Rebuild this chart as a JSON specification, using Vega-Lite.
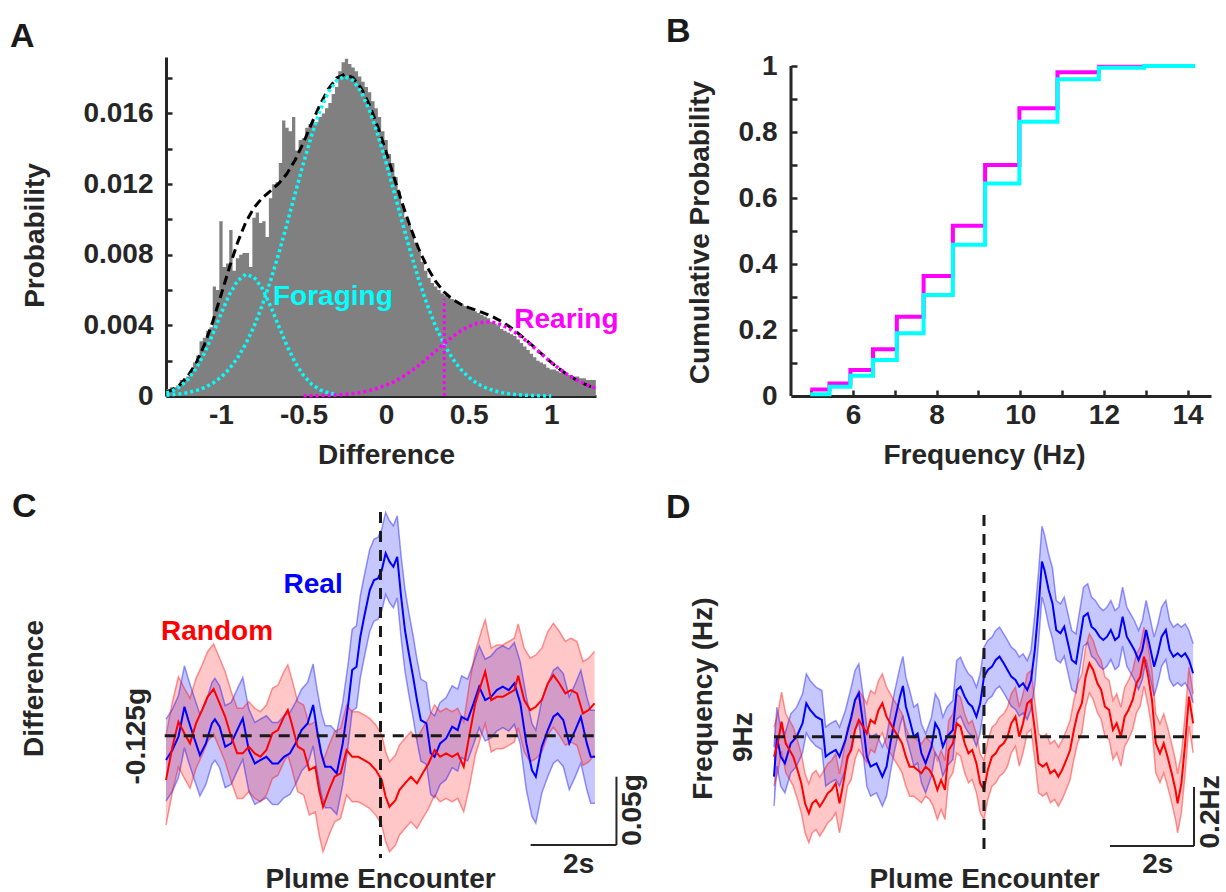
{
"$schema": "https://vega.github.io/schema/vega-lite/v6.json",
"background": "white",
"padding": {"left": 10, "top": 15, "right": 5, "bottom": 0},
"columns": 2,
"spacing": {"row": 107, "column": 195},
"bounds": "flush",
"align": "none",
"config": {
  "view": {"stroke": null},
  "font": "Liberation Sans",
  "axis": {"grid": false, "zindex": 1, "domainColor": "#262626", "domainWidth": 3, "tickColor": "#262626", "tickWidth": 2.5, "tickSize": -6,
    "labelFont": "Liberation Sans", "labelFontSize": 28, "labelFontWeight": "bold", "labelColor": "#262626",
    "titleFont": "Liberation Sans", "titleFontSize": 28, "titleFontWeight": "bold", "titleColor": "#262626",
    "labelFlush": false, "labelOverlap": false, "labelBound": false, "labelAngle": 0},
  "title": {"font": "Liberation Sans", "fontSize": 34, "fontWeight": "bold", "color": "#1a1a1a", "anchor": "start", "frame": "group", "baseline": "alphabetic"},
  "text": {"font": "Liberation Sans", "fontWeight": "bold", "fontSize": 28}
},
"datasets": {
"hist": [
{"x":-1.33,"p":0.0004},{"x":-1.31,"p":0.0005},{"x":-1.29,"p":0.0005},{"x":-1.27,"p":0.0006},{"x":-1.25,"p":0.0009},{"x":-1.23,"p":0.001},{"x":-1.21,"p":0.0011},{"x":-1.19,"p":0.0014},{"x":-1.17,"p":0.0019},{"x":-1.15,"p":0.0023},
{"x":-1.13,"p":0.0031},{"x":-1.11,"p":0.0033},{"x":-1.09,"p":0.0037},{"x":-1.07,"p":0.0039},{"x":-1.05,"p":0.0062},{"x":-1.03,"p":0.006},{"x":-1.01,"p":0.0099},{"x":-0.99,"p":0.0073},{"x":-0.97,"p":0.0075},{"x":-0.95,"p":0.0094},
{"x":-0.93,"p":0.0071},{"x":-0.91,"p":0.0078},{"x":-0.89,"p":0.008},{"x":-0.87,"p":0.0081},{"x":-0.85,"p":0.0081},{"x":-0.83,"p":0.0073},{"x":-0.81,"p":0.0101},{"x":-0.79,"p":0.0104},{"x":-0.77,"p":0.0098},{"x":-0.75,"p":0.0099},
{"x":-0.73,"p":0.009},{"x":-0.71,"p":0.0112},{"x":-0.69,"p":0.012},{"x":-0.67,"p":0.0121},{"x":-0.65,"p":0.0132},{"x":-0.63,"p":0.0156},{"x":-0.61,"p":0.0152},{"x":-0.59,"p":0.015},{"x":-0.57,"p":0.0158},{"x":-0.55,"p":0.0139},
{"x":-0.53,"p":0.0145},{"x":-0.51,"p":0.0146},{"x":-0.49,"p":0.0152},{"x":-0.47,"p":0.0154},{"x":-0.45,"p":0.0155},{"x":-0.43,"p":0.0155},{"x":-0.41,"p":0.0158},{"x":-0.39,"p":0.016},{"x":-0.37,"p":0.0163},{"x":-0.35,"p":0.0166},
{"x":-0.33,"p":0.0171},{"x":-0.31,"p":0.0175},{"x":-0.29,"p":0.0184},{"x":-0.27,"p":0.0189},{"x":-0.25,"p":0.0191},{"x":-0.23,"p":0.0188},{"x":-0.21,"p":0.0186},{"x":-0.19,"p":0.0184},{"x":-0.17,"p":0.0181},{"x":-0.15,"p":0.0178},
{"x":-0.13,"p":0.0175},{"x":-0.11,"p":0.0172},{"x":-0.09,"p":0.0167},{"x":-0.07,"p":0.0163},{"x":-0.05,"p":0.0158},{"x":-0.03,"p":0.015},{"x":-0.01,"p":0.0145},{"x":0.01,"p":0.0137},{"x":0.03,"p":0.0132},{"x":0.05,"p":0.0124},
{"x":0.07,"p":0.0116},{"x":0.09,"p":0.0108},{"x":0.11,"p":0.0101},{"x":0.13,"p":0.0097},{"x":0.15,"p":0.0092},{"x":0.17,"p":0.0087},{"x":0.19,"p":0.0082},{"x":0.21,"p":0.0076},{"x":0.23,"p":0.0071},{"x":0.25,"p":0.0067},
{"x":0.27,"p":0.0064},{"x":0.29,"p":0.0062},{"x":0.31,"p":0.006},{"x":0.33,"p":0.0058},{"x":0.35,"p":0.0057},{"x":0.37,"p":0.0056},{"x":0.39,"p":0.0055},{"x":0.41,"p":0.0054},{"x":0.43,"p":0.0053},{"x":0.45,"p":0.0052},
{"x":0.47,"p":0.0051},{"x":0.49,"p":0.005},{"x":0.51,"p":0.0049},{"x":0.53,"p":0.0048},{"x":0.55,"p":0.0047},{"x":0.57,"p":0.0046},{"x":0.59,"p":0.0045},{"x":0.61,"p":0.0044},{"x":0.63,"p":0.0042},{"x":0.65,"p":0.0041},
{"x":0.67,"p":0.004},{"x":0.69,"p":0.0038},{"x":0.71,"p":0.0037},{"x":0.73,"p":0.0036},{"x":0.75,"p":0.0035},{"x":0.77,"p":0.0034},{"x":0.79,"p":0.0032},{"x":0.81,"p":0.003},{"x":0.83,"p":0.0028},{"x":0.85,"p":0.0026},
{"x":0.87,"p":0.0024},{"x":0.89,"p":0.0022},{"x":0.91,"p":0.002},{"x":0.93,"p":0.0019},{"x":0.95,"p":0.0018},{"x":0.97,"p":0.0016},{"x":0.99,"p":0.0015},{"x":1.01,"p":0.0015},{"x":1.03,"p":0.0014},{"x":1.05,"p":0.0013},
{"x":1.07,"p":0.0013},{"x":1.09,"p":0.0012},{"x":1.11,"p":0.0012},{"x":1.13,"p":0.0011},{"x":1.15,"p":0.0011},{"x":1.17,"p":0.001},{"x":1.19,"p":0.001},{"x":1.21,"p":0.0009},{"x":1.23,"p":0.0009},{"x":1.25,"p":0.0009},{"x":1.27,"p":0.0009}
],
"curve": [
{"x":-1.33,"s":0.00022,"g1":0.00017,"g2":0.00005,"g3":0},
{"x":-1.3,"s":0.00033,"g1":0.00026,"g2":0.00007,"g3":0},
{"x":-1.25,"s":0.00063,"g1":0.00052,"g2":0.00012,"g3":0},
{"x":-1.2,"s":0.00113,"g1":0.00093,"g2":0.00019,"g3":0},
{"x":-1.15,"s":0.00187,"g1":0.00157,"g2":0.00031,"g3":0},
{"x":-1.1,"s":0.00291,"g1":0.00243,"g2":0.00048,"g3":0},
{"x":-1.05,"s":0.00421,"g1":0.00349,"g2":0.00072,"g3":0},
{"x":-1.0,"s":0.00571,"g1":0.00465,"g2":0.00106,"g3":0},
{"x":-0.95,"s":0.00726,"g1":0.00573,"g2":0.00153,"g3":0},
{"x":-0.9,"s":0.00868,"g1":0.00653,"g2":0.00215,"g3":0},
{"x":-0.85,"s":0.00984,"g1":0.00689,"g2":0.00295,"g3":0},
{"x":-0.8,"s":0.01067,"g1":0.00673,"g2":0.00394,"g3":0},
{"x":-0.75,"s":0.01122,"g1":0.00609,"g2":0.00514,"g3":0},
{"x":-0.7,"s":0.01162,"g1":0.0051,"g2":0.00652,"g3":0},
{"x":-0.65,"s":0.01204,"g1":0.00395,"g2":0.00808,"g3":0},
{"x":-0.6,"s":0.0126,"g1":0.00284,"g2":0.00976,"g3":0},
{"x":-0.55,"s":0.01338,"g1":0.00188,"g2":0.0115,"g3":0},
{"x":-0.5,"s":0.01437,"g1":0.00116,"g2":0.01321,"g3":0.00001},
{"x":-0.45,"s":0.01546,"g1":0.00066,"g2":0.0148,"g3":0.00001},
{"x":-0.4,"s":0.01651,"g1":0.00035,"g2":0.01616,"g3":0.00002},
{"x":-0.35,"s":0.01738,"g1":0.00017,"g2":0.01721,"g3":0.00003},
{"x":-0.3,"s":0.01801,"g1":0.00008,"g2":0.01787,"g3":0.00006},
{"x":-0.25,"s":0.01822,"g1":0.00003,"g2":0.0181,"g3":0.00009},
{"x":-0.2,"s":0.01802,"g1":0.00001,"g2":0.01787,"g3":0.00014},
{"x":-0.15,"s":0.01742,"g1":0,"g2":0.01721,"g3":0.00021},
{"x":-0.1,"s":0.01647,"g1":0,"g2":0.01616,"g3":0.00031},
{"x":-0.05,"s":0.01523,"g1":0,"g2":0.0148,"g3":0.00044},
{"x":0.0,"s":0.01382,"g1":0,"g2":0.01321,"g3":0.00061},
{"x":0.05,"s":0.01232,"g1":0,"g2":0.0115,"g3":0.00082},
{"x":0.1,"s":0.01085,"g1":0,"g2":0.00976,"g3":0.00109},
{"x":0.15,"s":0.00948,"g1":0,"g2":0.00808,"g3":0.0014},
{"x":0.2,"s":0.00827,"g1":0,"g2":0.00652,"g3":0.00175},
{"x":0.25,"s":0.00728,"g1":0,"g2":0.00514,"g3":0.00214},
{"x":0.3,"s":0.00649,"g1":0,"g2":0.00394,"g3":0.00255},
{"x":0.35,"s":0.0059,"g1":0,"g2":0.00295,"g3":0.00296},
{"x":0.4,"s":0.00549,"g1":0,"g2":0.00215,"g3":0.00334},
{"x":0.45,"s":0.00521,"g1":0,"g2":0.00153,"g3":0.00368},
{"x":0.5,"s":0.00501,"g1":0,"g2":0.00106,"g3":0.00394},
{"x":0.55,"s":0.00484,"g1":0,"g2":0.00072,"g3":0.00412},
{"x":0.6,"s":0.00467,"g1":0,"g2":0.00048,"g3":0.0042},
{"x":0.65,"s":0.00447,"g1":0,"g2":0.00031,"g3":0.00417},
{"x":0.7,"s":0.00422,"g1":0,"g2":0.00019,"g3":0.00403},
{"x":0.75,"s":0.00391,"g1":0,"g2":0.00012,"g3":0.00379},
{"x":0.8,"s":0.00355,"g1":0,"g2":0.00007,"g3":0.00348},
{"x":0.85,"s":0.00315,"g1":0,"g2":0.00004,"g3":0.00311},
{"x":0.9,"s":0.00274,"g1":0,"g2":0.00002,"g3":0.00271},
{"x":0.95,"s":0.00232,"g1":0,"g2":0.00001,"g3":0.0023},
{"x":1.0,"s":0.0019,"g1":0,"g2":0,"g3":0.0019},
{"x":1.05,"s":0.00153,"g1":0,"g2":0,"g3":0.00153},
{"x":1.1,"s":0.0012,"g1":0,"g2":0,"g3":0.0012},
{"x":1.15,"s":0.00092,"g1":0,"g2":0,"g3":0.00092},
{"x":1.2,"s":0.00069,"g1":0,"g2":0,"g3":0.00069},
{"x":1.25,"s":0.0005,"g1":0,"g2":0,"g3":0.0005},
{"x":1.27,"s":0.00044,"g1":0,"g2":0,"g3":0.00044}
],
"cdf": [
{"f":4.98,"c":0.02,"b":"Rearing"},{"f":5.44,"c":0.038,"b":"Rearing"},{"f":5.94,"c":0.079,"b":"Rearing"},{"f":6.48,"c":0.142,"b":"Rearing"},{"f":7.05,"c":0.24,"b":"Rearing"},{"f":7.69,"c":0.364,"b":"Rearing"},{"f":8.39,"c":0.516,"b":"Rearing"},{"f":9.16,"c":0.7,"b":"Rearing"},{"f":9.98,"c":0.872,"b":"Rearing"},{"f":10.89,"c":0.981,"b":"Rearing"},{"f":11.88,"c":0.998,"b":"Rearing"},{"f":12.96,"c":1.0,"b":"Rearing"},{"f":14.18,"c":1.0,"b":"Rearing"},
{"f":4.98,"c":0.005,"b":"Foraging"},{"f":5.44,"c":0.028,"b":"Foraging"},{"f":5.94,"c":0.061,"b":"Foraging"},{"f":6.48,"c":0.109,"b":"Foraging"},{"f":7.05,"c":0.19,"b":"Foraging"},{"f":7.69,"c":0.306,"b":"Foraging"},{"f":8.39,"c":0.458,"b":"Foraging"},{"f":9.16,"c":0.644,"b":"Foraging"},{"f":9.98,"c":0.831,"b":"Foraging"},{"f":10.89,"c":0.96,"b":"Foraging"},{"f":11.88,"c":0.995,"b":"Foraging"},{"f":12.96,"c":1.0,"b":"Foraging"},{"f":14.18,"c":1.0,"b":"Foraging"}
],
"cb": [
{"t":-5,"m":-0.1428,"lo":-0.1728,"hi":-0.1128},{"t":-4.85,"m":-0.1355,"lo":-0.1655,"hi":-0.1055},{"t":-4.71,"m":-0.1257,"lo":-0.1557,"hi":-0.0957},{"t":-4.57,"m":-0.1038,"lo":-0.1338,"hi":-0.0738},{"t":-4.48,"m":-0.1135,"lo":-0.1435,"hi":-0.0835},{"t":-4.34,"m":-0.127,"lo":-0.157,"hi":-0.097},{"t":-4.21,"m":-0.1392,"lo":-0.1692,"hi":-0.1092},{"t":-4.07,"m":-0.1306,"lo":-0.1606,"hi":-0.1006},{"t":-3.93,"m":-0.116,"lo":-0.146,"hi":-0.086},{"t":-3.86,"m":-0.113,"lo":-0.143,"hi":-0.083},
{"t":-3.75,"m":-0.1184,"lo":-0.1484,"hi":-0.0884},{"t":-3.62,"m":-0.133,"lo":-0.163,"hi":-0.103},{"t":-3.48,"m":-0.1306,"lo":-0.1606,"hi":-0.1006},{"t":-3.34,"m":-0.1209,"lo":-0.1509,"hi":-0.0909},{"t":-3.21,"m":-0.1123,"lo":-0.1423,"hi":-0.0823},{"t":-3.07,"m":-0.1355,"lo":-0.1655,"hi":-0.1055},{"t":-2.93,"m":-0.1453,"lo":-0.1753,"hi":-0.1153},{"t":-2.8,"m":-0.1428,"lo":-0.1728,"hi":-0.1128},{"t":-2.66,"m":-0.1404,"lo":-0.1704,"hi":-0.1104},{"t":-2.52,"m":-0.1453,"lo":-0.1753,"hi":-0.1153},
{"t":-2.39,"m":-0.1453,"lo":-0.1753,"hi":-0.1153},{"t":-2.25,"m":-0.1404,"lo":-0.1704,"hi":-0.1104},{"t":-2.11,"m":-0.1379,"lo":-0.1679,"hi":-0.1079},{"t":-1.98,"m":-0.1306,"lo":-0.1606,"hi":-0.1006},{"t":-1.84,"m":-0.1209,"lo":-0.1509,"hi":-0.0909},{"t":-1.7,"m":-0.116,"lo":-0.146,"hi":-0.086},{"t":-1.57,"m":-0.1025,"lo":-0.1325,"hi":-0.0725},{"t":-1.48,"m":-0.1209,"lo":-0.1509,"hi":-0.0909},{"t":-1.38,"m":-0.1379,"lo":-0.1679,"hi":-0.1079},{"t":-1.29,"m":-0.1477,"lo":-0.1777,"hi":-0.1177},
{"t":-1.16,"m":-0.1477,"lo":-0.1777,"hi":-0.1177},{"t":-1.02,"m":-0.1526,"lo":-0.1826,"hi":-0.1226},{"t":-0.88,"m":-0.1306,"lo":-0.1606,"hi":-0.1006},{"t":-0.75,"m":-0.1013,"lo":-0.1313,"hi":-0.0713},{"t":-0.66,"m":-0.0769,"lo":-0.1069,"hi":-0.0469},{"t":-0.56,"m":-0.0745,"lo":-0.1045,"hi":-0.0445},{"t":-0.47,"m":-0.0525,"lo":-0.0825,"hi":-0.0225},{"t":-0.38,"m":-0.0379,"lo":-0.0679,"hi":-0.0079},{"t":-0.25,"m":-0.0184,"lo":-0.0484,"hi":0.0116},{"t":-0.15,"m":-0.011,"lo":-0.041,"hi":0.019},
{"t":-0.06,"m":-0.0098,"lo":-0.0398,"hi":0.0202},{"t":0.03,"m":-0.0037,"lo":-0.0337,"hi":0.0263},{"t":0.12,"m":0.0085,"lo":-0.0215,"hi":0.0385},{"t":0.21,"m":0.0024,"lo":-0.0276,"hi":0.0324},{"t":0.3,"m":-0.0013,"lo":-0.0313,"hi":0.0287},{"t":0.39,"m":0.006,"lo":-0.024,"hi":0.036},{"t":0.48,"m":-0.0232,"lo":-0.0532,"hi":0.0068},{"t":0.57,"m":-0.0476,"lo":-0.0776,"hi":-0.0176},{"t":0.66,"m":-0.0647,"lo":-0.0947,"hi":-0.0347},{"t":0.76,"m":-0.0818,"lo":-0.1118,"hi":-0.0518},
{"t":0.85,"m":-0.0989,"lo":-0.1289,"hi":-0.0689},{"t":0.94,"m":-0.1135,"lo":-0.1435,"hi":-0.0835},{"t":1.07,"m":-0.116,"lo":-0.146,"hi":-0.086},{"t":1.17,"m":-0.1379,"lo":-0.1679,"hi":-0.1079},{"t":1.26,"m":-0.1404,"lo":-0.1704,"hi":-0.1104},{"t":1.39,"m":-0.1306,"lo":-0.1606,"hi":-0.1006},{"t":1.53,"m":-0.127,"lo":-0.157,"hi":-0.097},{"t":1.67,"m":-0.1184,"lo":-0.1484,"hi":-0.0884},{"t":1.8,"m":-0.1209,"lo":-0.1509,"hi":-0.0909},{"t":1.89,"m":-0.1111,"lo":-0.1411,"hi":-0.0811},
{"t":2.03,"m":-0.1135,"lo":-0.1435,"hi":-0.0835},{"t":2.17,"m":-0.1013,"lo":-0.1313,"hi":-0.0713},{"t":2.3,"m":-0.0891,"lo":-0.1191,"hi":-0.0591},{"t":2.44,"m":-0.0989,"lo":-0.1289,"hi":-0.0689},{"t":2.58,"m":-0.0965,"lo":-0.1265,"hi":-0.0665},{"t":2.71,"m":-0.0916,"lo":-0.1216,"hi":-0.0616},{"t":2.85,"m":-0.0891,"lo":-0.1191,"hi":-0.0591},{"t":2.99,"m":-0.0916,"lo":-0.1216,"hi":-0.0616},{"t":3.12,"m":-0.0867,"lo":-0.1167,"hi":-0.0567},{"t":3.26,"m":-0.1013,"lo":-0.1313,"hi":-0.0713},
{"t":3.4,"m":-0.1306,"lo":-0.1646,"hi":-0.0966},{"t":3.53,"m":-0.1501,"lo":-0.1841,"hi":-0.1161},{"t":3.62,"m":-0.155,"lo":-0.189,"hi":-0.121},{"t":3.76,"m":-0.133,"lo":-0.167,"hi":-0.099},{"t":3.9,"m":-0.1209,"lo":-0.1549,"hi":-0.0869},{"t":4.03,"m":-0.1111,"lo":-0.1451,"hi":-0.0771},{"t":4.13,"m":-0.1087,"lo":-0.1427,"hi":-0.0747},{"t":4.26,"m":-0.1135,"lo":-0.1475,"hi":-0.0795},{"t":4.4,"m":-0.1306,"lo":-0.1646,"hi":-0.0966},{"t":4.54,"m":-0.1209,"lo":-0.1549,"hi":-0.0869},
{"t":4.67,"m":-0.1111,"lo":-0.1451,"hi":-0.0771},{"t":4.81,"m":-0.1306,"lo":-0.1646,"hi":-0.0966},{"t":4.9,"m":-0.1404,"lo":-0.1744,"hi":-0.1064},{"t":5,"m":-0.1404,"lo":-0.1744,"hi":-0.1064}
],
"cr": [
{"t":-5,"m":-0.1575,"lo":-0.1905,"hi":-0.1245},{"t":-4.85,"m":-0.133,"lo":-0.166,"hi":-0.1},{"t":-4.71,"m":-0.1148,"lo":-0.1478,"hi":-0.0818},{"t":-4.57,"m":-0.1233,"lo":-0.1563,"hi":-0.0903},{"t":-4.44,"m":-0.1306,"lo":-0.1636,"hi":-0.0976},{"t":-4.3,"m":-0.116,"lo":-0.149,"hi":-0.083},{"t":-4.16,"m":-0.1062,"lo":-0.1392,"hi":-0.0732},{"t":-4.03,"m":-0.0965,"lo":-0.1295,"hi":-0.0635},{"t":-3.89,"m":-0.0908,"lo":-0.1238,"hi":-0.0578},{"t":-3.75,"m":-0.1013,"lo":-0.1343,"hi":-0.0683},
{"t":-3.62,"m":-0.1111,"lo":-0.1441,"hi":-0.0781},{"t":-3.48,"m":-0.1257,"lo":-0.1587,"hi":-0.0927},{"t":-3.34,"m":-0.1379,"lo":-0.1709,"hi":-0.1049},{"t":-3.21,"m":-0.1379,"lo":-0.1709,"hi":-0.1049},{"t":-3.07,"m":-0.133,"lo":-0.166,"hi":-0.1},{"t":-2.93,"m":-0.1379,"lo":-0.1709,"hi":-0.1049},{"t":-2.8,"m":-0.1404,"lo":-0.1734,"hi":-0.1074},{"t":-2.66,"m":-0.1355,"lo":-0.1685,"hi":-0.1025},{"t":-2.52,"m":-0.1233,"lo":-0.1563,"hi":-0.0903},{"t":-2.39,"m":-0.1209,"lo":-0.1539,"hi":-0.0879},
{"t":-2.25,"m":-0.1111,"lo":-0.1441,"hi":-0.0781},{"t":-2.16,"m":-0.1062,"lo":-0.1392,"hi":-0.0732},{"t":-2.07,"m":-0.116,"lo":-0.149,"hi":-0.083},{"t":-1.93,"m":-0.133,"lo":-0.166,"hi":-0.1},{"t":-1.79,"m":-0.1355,"lo":-0.1685,"hi":-0.1025},{"t":-1.66,"m":-0.1501,"lo":-0.1831,"hi":-0.1171},{"t":-1.52,"m":-0.1477,"lo":-0.1807,"hi":-0.1147},{"t":-1.43,"m":-0.1648,"lo":-0.1978,"hi":-0.1318},{"t":-1.34,"m":-0.177,"lo":-0.21,"hi":-0.144},{"t":-1.2,"m":-0.1648,"lo":-0.1978,"hi":-0.1318},
{"t":-1.07,"m":-0.155,"lo":-0.188,"hi":-0.122},{"t":-0.93,"m":-0.1526,"lo":-0.1856,"hi":-0.1196},{"t":-0.79,"m":-0.1355,"lo":-0.1685,"hi":-0.1025},{"t":-0.66,"m":-0.1404,"lo":-0.1734,"hi":-0.1074},{"t":-0.52,"m":-0.1404,"lo":-0.1734,"hi":-0.1074},{"t":-0.38,"m":-0.1428,"lo":-0.1758,"hi":-0.1098},{"t":-0.25,"m":-0.1453,"lo":-0.1783,"hi":-0.1123},{"t":-0.11,"m":-0.1501,"lo":-0.1831,"hi":-0.1171},{"t":0.03,"m":-0.1575,"lo":-0.1905,"hi":-0.1245},{"t":0.12,"m":-0.1697,"lo":-0.2027,"hi":-0.1367},
{"t":0.21,"m":-0.177,"lo":-0.21,"hi":-0.144},{"t":0.35,"m":-0.1721,"lo":-0.2051,"hi":-0.1391},{"t":0.44,"m":-0.1648,"lo":-0.1978,"hi":-0.1318},{"t":0.57,"m":-0.1599,"lo":-0.1929,"hi":-0.1269},{"t":0.71,"m":-0.155,"lo":-0.188,"hi":-0.122},{"t":0.85,"m":-0.1599,"lo":-0.1929,"hi":-0.1269},{"t":0.98,"m":-0.1526,"lo":-0.1856,"hi":-0.1196},{"t":1.12,"m":-0.1453,"lo":-0.1783,"hi":-0.1123},{"t":1.26,"m":-0.1355,"lo":-0.1685,"hi":-0.1025},{"t":1.39,"m":-0.1404,"lo":-0.1734,"hi":-0.1074},
{"t":1.53,"m":-0.1379,"lo":-0.1709,"hi":-0.1049},{"t":1.67,"m":-0.1404,"lo":-0.1734,"hi":-0.1074},{"t":1.8,"m":-0.1379,"lo":-0.1709,"hi":-0.1049},{"t":1.94,"m":-0.1477,"lo":-0.1807,"hi":-0.1147},{"t":2.08,"m":-0.1233,"lo":-0.1613,"hi":-0.0853},{"t":2.21,"m":-0.1013,"lo":-0.1393,"hi":-0.0633},{"t":2.35,"m":-0.0867,"lo":-0.1247,"hi":-0.0487},{"t":2.44,"m":-0.0781,"lo":-0.1161,"hi":-0.0401},{"t":2.58,"m":-0.0989,"lo":-0.1369,"hi":-0.0609},{"t":2.71,"m":-0.0965,"lo":-0.1345,"hi":-0.0585},
{"t":2.85,"m":-0.0965,"lo":-0.1345,"hi":-0.0585},{"t":2.99,"m":-0.094,"lo":-0.132,"hi":-0.056},{"t":3.12,"m":-0.0916,"lo":-0.1296,"hi":-0.0536},{"t":3.21,"m":-0.0811,"lo":-0.1191,"hi":-0.0431},{"t":3.35,"m":-0.0989,"lo":-0.1369,"hi":-0.0609},{"t":3.49,"m":-0.1062,"lo":-0.1442,"hi":-0.0682},{"t":3.62,"m":-0.1038,"lo":-0.1418,"hi":-0.0658},{"t":3.76,"m":-0.0989,"lo":-0.1369,"hi":-0.0609},{"t":3.9,"m":-0.0867,"lo":-0.1247,"hi":-0.0487},{"t":4.03,"m":-0.0806,"lo":-0.1186,"hi":-0.0426},
{"t":4.17,"m":-0.0867,"lo":-0.1247,"hi":-0.0487},{"t":4.31,"m":-0.094,"lo":-0.132,"hi":-0.056},{"t":4.44,"m":-0.0916,"lo":-0.1296,"hi":-0.0536},{"t":4.58,"m":-0.094,"lo":-0.132,"hi":-0.056},{"t":4.72,"m":-0.1087,"lo":-0.1467,"hi":-0.0707},{"t":4.85,"m":-0.1062,"lo":-0.1442,"hi":-0.0682},{"t":4.99,"m":-0.1013,"lo":-0.1393,"hi":-0.0633}
],
"db": [
{"t":-5,"m":8.8644,"lo":8.7644,"hi":8.9644},{"t":-4.93,"m":9.0,"lo":8.9,"hi":9.1},{"t":-4.84,"m":8.9322,"lo":8.8322,"hi":9.0322},{"t":-4.74,"m":8.9096,"lo":8.8096,"hi":9.0096},{"t":-4.6,"m":8.9774,"lo":8.8774,"hi":9.0774},{"t":-4.46,"m":9.0,"lo":8.9,"hi":9.1},{"t":-4.32,"m":9.0452,"lo":8.9452,"hi":9.1452},{"t":-4.23,"m":9.113,"lo":9.013,"hi":9.213},{"t":-4.14,"m":9.0904,"lo":8.9904,"hi":9.1904},{"t":-4.0,"m":9.0678,"lo":8.9678,"hi":9.1678},
{"t":-3.86,"m":9.0565,"lo":8.9565,"hi":9.1565},{"t":-3.77,"m":8.9322,"lo":8.8322,"hi":9.0322},{"t":-3.67,"m":8.9435,"lo":8.8435,"hi":9.0435},{"t":-3.53,"m":8.9548,"lo":8.8548,"hi":9.0548},{"t":-3.44,"m":8.9322,"lo":8.8322,"hi":9.0322},{"t":-3.3,"m":8.9887,"lo":8.8887,"hi":9.0887},{"t":-3.16,"m":9.0678,"lo":8.9678,"hi":9.1678},{"t":-3.07,"m":9.1243,"lo":9.0243,"hi":9.2243},{"t":-2.98,"m":9.1469,"lo":9.0469,"hi":9.2469},{"t":-2.88,"m":9.0452,"lo":8.9452,"hi":9.1452},
{"t":-2.79,"m":8.9322,"lo":8.8322,"hi":9.0322},{"t":-2.7,"m":8.8983,"lo":8.7983,"hi":8.9983},{"t":-2.56,"m":8.9096,"lo":8.8096,"hi":9.0096},{"t":-2.42,"m":8.8644,"lo":8.7644,"hi":8.9644},{"t":-2.32,"m":8.8983,"lo":8.7983,"hi":8.9983},{"t":-2.23,"m":8.9774,"lo":8.8774,"hi":9.0774},{"t":-2.14,"m":9.0452,"lo":8.9452,"hi":9.1452},{"t":-2.0,"m":9.1356,"lo":9.0356,"hi":9.2356},{"t":-1.93,"m":9.1718,"lo":9.0718,"hi":9.2718},{"t":-1.86,"m":9.1017,"lo":9.0017,"hi":9.2017},
{"t":-1.77,"m":9.0565,"lo":8.9565,"hi":9.1565},{"t":-1.67,"m":9.0,"lo":8.9,"hi":9.1},{"t":-1.58,"m":9.0113,"lo":8.9113,"hi":9.1113},{"t":-1.49,"m":8.9435,"lo":8.8435,"hi":9.0435},{"t":-1.39,"m":8.9096,"lo":8.8096,"hi":9.0096},{"t":-1.25,"m":8.9661,"lo":8.8661,"hi":9.0661},{"t":-1.16,"m":9.0452,"lo":8.9452,"hi":9.1452},{"t":-1.07,"m":9.0226,"lo":8.9226,"hi":9.1226},{"t":-0.98,"m":8.9661,"lo":8.8661,"hi":9.0661},{"t":-0.88,"m":9.0,"lo":8.9,"hi":9.1},
{"t":-0.74,"m":9.0226,"lo":8.9226,"hi":9.1226},{"t":-0.65,"m":9.1582,"lo":9.0582,"hi":9.2582},{"t":-0.56,"m":9.1695,"lo":9.0695,"hi":9.2695},{"t":-0.46,"m":9.1356,"lo":9.0356,"hi":9.2356},{"t":-0.37,"m":9.113,"lo":9.013,"hi":9.213},{"t":-0.28,"m":9.1017,"lo":9.0017,"hi":9.2017},{"t":-0.18,"m":9.0678,"lo":8.9678,"hi":9.1678},{"t":-0.09,"m":9.113,"lo":9.013,"hi":9.213},{"t":0.0,"m":9.2034,"lo":9.1034,"hi":9.3034},{"t":0.09,"m":9.226,"lo":9.126,"hi":9.326},
{"t":0.19,"m":9.2373,"lo":9.1373,"hi":9.3373},{"t":0.28,"m":9.2599,"lo":9.1599,"hi":9.3599},{"t":0.37,"m":9.2712,"lo":9.1712,"hi":9.3712},{"t":0.47,"m":9.2486,"lo":9.1486,"hi":9.3486},{"t":0.56,"m":9.226,"lo":9.126,"hi":9.326},{"t":0.65,"m":9.2034,"lo":9.1034,"hi":9.3034},{"t":0.75,"m":9.1921,"lo":9.0921,"hi":9.2921},{"t":0.84,"m":9.1695,"lo":9.0695,"hi":9.2695},{"t":0.93,"m":9.1808,"lo":9.0808,"hi":9.2808},{"t":1.03,"m":9.1582,"lo":9.0582,"hi":9.2582},
{"t":1.12,"m":9.1921,"lo":9.0921,"hi":9.2921},{"t":1.21,"m":9.2938,"lo":9.1738,"hi":9.4138},{"t":1.3,"m":9.4407,"lo":9.3207,"hi":9.5607},{"t":1.38,"m":9.5932,"lo":9.4732,"hi":9.7132},{"t":1.44,"m":9.565,"lo":9.445,"hi":9.685},{"t":1.54,"m":9.4972,"lo":9.3772,"hi":9.6172},{"t":1.63,"m":9.452,"lo":9.332,"hi":9.572},{"t":1.72,"m":9.3616,"lo":9.2616,"hi":9.4616},{"t":1.82,"m":9.3503,"lo":9.2503,"hi":9.4503},{"t":1.91,"m":9.3729,"lo":9.2729,"hi":9.4729},
{"t":2.0,"m":9.3164,"lo":9.2164,"hi":9.4164},{"t":2.09,"m":9.2599,"lo":9.1599,"hi":9.3599},{"t":2.19,"m":9.2486,"lo":9.1486,"hi":9.3486},{"t":2.28,"m":9.3277,"lo":9.2277,"hi":9.4277},{"t":2.37,"m":9.4068,"lo":9.3068,"hi":9.5068},{"t":2.47,"m":9.4181,"lo":9.3181,"hi":9.5181},{"t":2.56,"m":9.3729,"lo":9.2729,"hi":9.4729},{"t":2.65,"m":9.3616,"lo":9.2616,"hi":9.4616},{"t":2.75,"m":9.339,"lo":9.239,"hi":9.439},{"t":2.84,"m":9.3277,"lo":9.2277,"hi":9.4277},
{"t":2.93,"m":9.339,"lo":9.239,"hi":9.439},{"t":3.02,"m":9.3616,"lo":9.2616,"hi":9.4616},{"t":3.12,"m":9.3277,"lo":9.2277,"hi":9.4277},{"t":3.21,"m":9.339,"lo":9.239,"hi":9.439},{"t":3.3,"m":9.4068,"lo":9.3068,"hi":9.5068},{"t":3.4,"m":9.339,"lo":9.239,"hi":9.439},{"t":3.49,"m":9.3164,"lo":9.2164,"hi":9.4164},{"t":3.58,"m":9.2938,"lo":9.1938,"hi":9.3938},{"t":3.68,"m":9.2599,"lo":9.1599,"hi":9.3599},{"t":3.77,"m":9.2938,"lo":9.1938,"hi":9.3938},
{"t":3.86,"m":9.3616,"lo":9.2616,"hi":9.4616},{"t":3.95,"m":9.3051,"lo":9.2051,"hi":9.4051},{"t":4.05,"m":9.2373,"lo":9.1373,"hi":9.3373},{"t":4.14,"m":9.2825,"lo":9.1825,"hi":9.3825},{"t":4.23,"m":9.339,"lo":9.239,"hi":9.439},{"t":4.33,"m":9.3616,"lo":9.2616,"hi":9.4616},{"t":4.42,"m":9.2938,"lo":9.1938,"hi":9.3938},{"t":4.51,"m":9.2712,"lo":9.1712,"hi":9.3712},{"t":4.61,"m":9.2825,"lo":9.1825,"hi":9.3825},{"t":4.7,"m":9.2712,"lo":9.1712,"hi":9.3712},
{"t":4.79,"m":9.2825,"lo":9.1825,"hi":9.3825},{"t":4.88,"m":9.2599,"lo":9.1599,"hi":9.3599},{"t":4.98,"m":9.2147,"lo":9.1147,"hi":9.3147}
],
"dr": [
{"t":-5,"m":8.9322,"lo":8.8322,"hi":9.0322},{"t":-4.91,"m":8.9774,"lo":8.8774,"hi":9.0774},{"t":-4.82,"m":9.0508,"lo":8.9508,"hi":9.1508},{"t":-4.72,"m":8.9774,"lo":8.8774,"hi":9.0774},{"t":-4.63,"m":8.9548,"lo":8.8548,"hi":9.0548},{"t":-4.54,"m":8.9322,"lo":8.8322,"hi":9.0322},{"t":-4.44,"m":8.887,"lo":8.787,"hi":8.987},{"t":-4.35,"m":8.8418,"lo":8.7418,"hi":8.9418},{"t":-4.26,"m":8.774,"lo":8.674,"hi":8.874},{"t":-4.17,"m":8.7401,"lo":8.6401,"hi":8.8401},
{"t":-4.09,"m":8.774,"lo":8.674,"hi":8.874},{"t":-4.0,"m":8.7853,"lo":8.6853,"hi":8.8853},{"t":-3.91,"m":8.7627,"lo":8.6627,"hi":8.8627},{"t":-3.81,"m":8.7853,"lo":8.6853,"hi":8.8853},{"t":-3.72,"m":8.8079,"lo":8.7079,"hi":8.9079},{"t":-3.63,"m":8.8192,"lo":8.7192,"hi":8.9192},{"t":-3.53,"m":8.8418,"lo":8.7418,"hi":8.9418},{"t":-3.44,"m":8.774,"lo":8.674,"hi":8.874},{"t":-3.35,"m":8.8418,"lo":8.7418,"hi":8.9418},{"t":-3.25,"m":8.9322,"lo":8.8322,"hi":9.0322},
{"t":-3.16,"m":8.9548,"lo":8.8548,"hi":9.0548},{"t":-3.07,"m":9.0226,"lo":8.9226,"hi":9.1226},{"t":-2.98,"m":9.0565,"lo":8.9565,"hi":9.1565},{"t":-2.88,"m":9.0339,"lo":8.9339,"hi":9.1339},{"t":-2.79,"m":9.0113,"lo":8.9113,"hi":9.1113},{"t":-2.7,"m":9.0565,"lo":8.9565,"hi":9.1565},{"t":-2.6,"m":9.0452,"lo":8.9452,"hi":9.1452},{"t":-2.51,"m":9.0904,"lo":8.9904,"hi":9.1904},{"t":-2.42,"m":9.113,"lo":9.013,"hi":9.213},{"t":-2.32,"m":9.0678,"lo":8.9678,"hi":9.1678},
{"t":-2.23,"m":9.0452,"lo":8.9452,"hi":9.1452},{"t":-2.14,"m":9.0226,"lo":8.9226,"hi":9.1226},{"t":-2.04,"m":9.0,"lo":8.9,"hi":9.1},{"t":-1.95,"m":8.9774,"lo":8.8774,"hi":9.0774},{"t":-1.86,"m":8.9322,"lo":8.8322,"hi":9.0322},{"t":-1.77,"m":8.8983,"lo":8.7983,"hi":8.9983},{"t":-1.67,"m":8.8983,"lo":8.7983,"hi":8.9983},{"t":-1.58,"m":8.887,"lo":8.787,"hi":8.987},{"t":-1.49,"m":8.8757,"lo":8.7757,"hi":8.9757},{"t":-1.39,"m":8.8983,"lo":8.7983,"hi":8.9983},
{"t":-1.3,"m":8.887,"lo":8.787,"hi":8.987},{"t":-1.21,"m":8.8644,"lo":8.7644,"hi":8.9644},{"t":-1.11,"m":8.8192,"lo":8.7192,"hi":8.9192},{"t":-1.02,"m":8.8531,"lo":8.7531,"hi":8.9531},{"t":-0.93,"m":8.8192,"lo":8.7192,"hi":8.9192},{"t":-0.84,"m":8.9548,"lo":8.8548,"hi":9.0548},{"t":-0.74,"m":8.9774,"lo":8.8774,"hi":9.0774},{"t":-0.65,"m":9.0452,"lo":8.9452,"hi":9.1452},{"t":-0.56,"m":9.0339,"lo":8.9339,"hi":9.1339},{"t":-0.46,"m":8.9774,"lo":8.8774,"hi":9.0774},
{"t":-0.37,"m":8.9435,"lo":8.8435,"hi":9.0435},{"t":-0.28,"m":8.9548,"lo":8.8548,"hi":9.0548},{"t":-0.18,"m":8.9096,"lo":8.8096,"hi":9.0096},{"t":-0.09,"m":8.8418,"lo":8.7418,"hi":8.9418},{"t":0.0,"m":8.8192,"lo":8.7192,"hi":8.9192},{"t":0.09,"m":8.887,"lo":8.787,"hi":8.987},{"t":0.19,"m":8.9322,"lo":8.8322,"hi":9.0322},{"t":0.28,"m":8.9435,"lo":8.8435,"hi":9.0435},{"t":0.37,"m":8.9661,"lo":8.8661,"hi":9.0661},{"t":0.47,"m":8.9774,"lo":8.8774,"hi":9.0774},
{"t":0.56,"m":9.0,"lo":8.9,"hi":9.1},{"t":0.65,"m":9.0452,"lo":8.9452,"hi":9.1452},{"t":0.75,"m":9.0678,"lo":8.9678,"hi":9.1678},{"t":0.84,"m":9.0,"lo":8.9,"hi":9.1},{"t":0.93,"m":9.0452,"lo":8.9452,"hi":9.1452},{"t":1.03,"m":9.113,"lo":9.013,"hi":9.213},{"t":1.12,"m":9.1243,"lo":9.0243,"hi":9.2243},{"t":1.21,"m":9.0226,"lo":8.9226,"hi":9.1226},{"t":1.3,"m":8.9096,"lo":8.8096,"hi":9.0096},{"t":1.4,"m":8.8983,"lo":8.7983,"hi":8.9983},
{"t":1.49,"m":8.9096,"lo":8.8096,"hi":9.0096},{"t":1.58,"m":8.8757,"lo":8.7757,"hi":8.9757},{"t":1.68,"m":8.887,"lo":8.787,"hi":8.987},{"t":1.77,"m":8.8644,"lo":8.7644,"hi":8.9644},{"t":1.86,"m":8.887,"lo":8.787,"hi":8.987},{"t":1.96,"m":8.9209,"lo":8.8209,"hi":9.0209},{"t":2.05,"m":8.9548,"lo":8.8548,"hi":9.0548},{"t":2.14,"m":9.0226,"lo":8.9226,"hi":9.1226},{"t":2.23,"m":9.0791,"lo":8.9791,"hi":9.1791},{"t":2.33,"m":9.113,"lo":9.013,"hi":9.213},
{"t":2.42,"m":9.2034,"lo":9.1034,"hi":9.3034},{"t":2.51,"m":9.2486,"lo":9.1486,"hi":9.3486},{"t":2.6,"m":9.226,"lo":9.126,"hi":9.326},{"t":2.7,"m":9.1808,"lo":9.0808,"hi":9.2808},{"t":2.79,"m":9.1582,"lo":9.0582,"hi":9.2582},{"t":2.88,"m":9.1017,"lo":9.0017,"hi":9.2017},{"t":2.98,"m":9.0904,"lo":8.9904,"hi":9.1904},{"t":3.07,"m":9.0226,"lo":8.9226,"hi":9.1226},{"t":3.16,"m":9.0452,"lo":8.9452,"hi":9.1452},{"t":3.26,"m":9.0,"lo":8.9,"hi":9.1},
{"t":3.35,"m":9.0678,"lo":8.9678,"hi":9.1678},{"t":3.44,"m":9.0904,"lo":8.9904,"hi":9.1904},{"t":3.54,"m":9.1243,"lo":9.0243,"hi":9.2243},{"t":3.63,"m":9.1808,"lo":9.0808,"hi":9.2808},{"t":3.72,"m":9.2034,"lo":9.1034,"hi":9.3034},{"t":3.81,"m":9.2712,"lo":9.1712,"hi":9.3712},{"t":3.91,"m":9.2034,"lo":9.1034,"hi":9.3034},{"t":4.0,"m":9.1243,"lo":9.0243,"hi":9.2243},{"t":4.09,"m":8.9774,"lo":8.8774,"hi":9.0774},{"t":4.19,"m":8.9435,"lo":8.8435,"hi":9.0435},
{"t":4.28,"m":8.9774,"lo":8.8774,"hi":9.0774},{"t":4.37,"m":8.9322,"lo":8.8322,"hi":9.0322},{"t":4.47,"m":8.8757,"lo":8.7757,"hi":8.9757},{"t":4.56,"m":8.8192,"lo":8.7192,"hi":8.9192},{"t":4.61,"m":8.774,"lo":8.674,"hi":8.874},{"t":4.7,"m":8.8418,"lo":8.7418,"hi":8.9418},{"t":4.79,"m":8.9774,"lo":8.8774,"hi":9.0774},{"t":4.88,"m":9.1356,"lo":9.0356,"hi":9.2356},{"t":4.98,"m":9.0452,"lo":8.9452,"hi":9.1452}
]
},
"concat": [
{
  "width": 430, "height": 339,
  "title": {"text": "A", "dx": -156, "offset": 3},
  "encoding": {
    "x": {"field": "x", "type": "quantitative", "scale": {"domain": [-1.333, 1.271], "nice": false, "zero": false},
      "axis": {"title": "Difference", "values": [-1, -0.5, 0, 0.5, 1], "labelExpr": "(datum.value < 0 ? '-' : '') + format(abs(datum.value), '~g')", "labelBaseline": "alphabetic", "labelPadding": 33, "titleX": 220, "titleY": 67, "titleAlign": "center", "titleBaseline": "alphabetic"}},
    "y": {"field": "p", "type": "quantitative", "scale": {"domain": [0, 0.0192], "nice": false, "zero": false},
      "axis": {"title": "Probability", "values": [0, 0.002, 0.004, 0.006, 0.008, 0.01, 0.012, 0.014, 0.016, 0.018], "labelExpr": "round(datum.value*1000) % 4 == 0 ? format(datum.value, '~g') : ''", "labelPadding": 19, "titleX": -131, "titleY": 178, "titleAngle": 270, "titleAlign": "center", "titleBaseline": "middle"}}
  },
  "layer": [
    {"data": {"name": "hist"}, "mark": {"type": "area", "color": "#808080", "interpolate": "step-after"}, "encoding": {}},
    {"data": {"name": "curve"}, "transform": [{"fold": ["s"], "as": ["k", "p"]}], "mark": {"type": "line", "color": "#000000", "strokeWidth": 3, "strokeDash": [9, 5]}, "encoding": {}},
    {"data": {"name": "curve"}, "transform": [{"filter": "datum.x <= -0.3"}, {"fold": ["g1"], "as": ["k", "p"]}], "mark": {"type": "line", "color": "#00ffff", "strokeWidth": 3.5, "strokeDash": [3, 3]}, "encoding": {}},
    {"data": {"name": "curve"}, "transform": [{"filter": "datum.x <= 1.0"}, {"fold": ["g2"], "as": ["k", "p"]}], "mark": {"type": "line", "color": "#00ffff", "strokeWidth": 3.5, "strokeDash": [3, 3]}, "encoding": {}},
    {"data": {"name": "curve"}, "transform": [{"filter": "datum.x >= -0.5"}, {"fold": ["g3"], "as": ["k", "p"]}], "mark": {"type": "line", "color": "#ff00ff", "strokeWidth": 3.5, "strokeDash": [3, 3]}, "encoding": {}},
    {"data": {"values": [{"x": 0.352, "p": 0, "p2": 0.0055}]}, "mark": {"type": "rule", "color": "#ff00ff", "strokeWidth": 3, "strokeDash": [3, 3]}, "encoding": {"y2": {"field": "p2"}}},
    {"data": {"values": [{"x": -0.685, "p": 0.00514, "label": "Foraging"}]}, "mark": {"type": "text", "color": "#00ffff", "align": "left", "baseline": "alphabetic"}, "encoding": {"text": {"field": "label"}}},
    {"data": {"values": [{"x": 0.776, "p": 0.00384, "label": "Rearing"}]}, "mark": {"type": "text", "color": "#ff00ff", "align": "left", "baseline": "alphabetic"}, "encoding": {"text": {"field": "label"}}}
  ]
},
{
  "width": 420, "height": 339,
  "title": {"text": "B", "dx": -125, "offset": 3},
  "encoding": {
    "x": {"field": "f", "type": "quantitative", "scale": {"domain": [4.52, 14.56], "nice": false, "zero": false},
      "axis": {"title": "Frequency (Hz)", "values": [5, 6, 7, 8, 9, 10, 11, 12, 13, 14], "labelExpr": "datum.value % 2 == 0 ? format(datum.value, 'd') : ''", "labelBaseline": "alphabetic", "labelPadding": 33, "titleX": 193, "titleY": 67, "titleAlign": "center", "titleBaseline": "alphabetic"}},
    "y": {"field": "c", "type": "quantitative", "scale": {"domain": [0, 1.0273], "nice": false, "zero": false},
      "axis": {"title": "Cumulative Probability", "domain": false, "values": [0, 0.1, 0.2, 0.3, 0.4, 0.5, 0.6, 0.7, 0.8, 0.9, 1], "labelExpr": "round(datum.value*10) % 2 == 0 ? format(datum.value, '~g') : ''", "labelPadding": 20, "titleX": -91, "titleY": 175, "titleAngle": 270, "titleAlign": "center", "titleBaseline": "middle"}}
  },
  "layer": [
    {"data": {"values": [{"f": 4.52, "c": 0, "c2": 1}]}, "mark": {"type": "rule", "color": "#262626", "strokeWidth": 3}, "encoding": {"y2": {"field": "c2"}}},
    {"data": {"name": "cdf"}, "transform": [{"filter": "datum.b == 'Rearing'"}], "mark": {"type": "line", "interpolate": "step-after", "color": "#ff00ff", "strokeWidth": 4}, "encoding": {}},
    {"data": {"name": "cdf"}, "transform": [{"filter": "datum.b == 'Foraging'"}], "mark": {"type": "line", "interpolate": "step-after", "color": "#00ffff", "strokeWidth": 4}, "encoding": {}}
  ]
},
{
  "width": 413, "height": 367,
  "title": {"text": "C", "dx": -154, "offset": -21},
  "encoding": {
    "x": {"field": "t", "type": "quantitative", "scale": {"domain": [-5, 4.627], "nice": false, "zero": false},
      "axis": {"title": "Plume Encounter", "domain": false, "ticks": false, "labels": false, "titleX": 214, "titleY": 17, "titleAlign": "center", "titleBaseline": "alphabetic"}},
    "y": {"field": "m", "type": "quantitative", "scale": {"domain": [-0.2233, 0.0454], "nice": false, "zero": false},
      "axis": {"title": "Difference", "domain": false, "ticks": false, "values": [-0.125], "labelExpr": "'-0.125g'", "labelAngle": 270, "labelAlign": "center", "labelBaseline": "middle", "labelPadding": 30, "titleX": -132, "titleY": 185, "titleAngle": 270, "titleAlign": "center", "titleBaseline": "middle"}}
  },
  "layer": [
    {"data": {"name": "cb"}, "mark": {"type": "area", "color": "#0000ff", "opacity": 0.22}, "encoding": {"y": {"field": "lo", "type": "quantitative", "scale": {"domain": [-0.2233, 0.0454], "nice": false, "zero": false}}, "y2": {"field": "hi"}}},
    {"data": {"name": "cr"}, "mark": {"type": "area", "color": "#ff0000", "opacity": 0.22}, "encoding": {"y": {"field": "lo", "type": "quantitative", "scale": {"domain": [-0.2233, 0.0454], "nice": false, "zero": false}}, "y2": {"field": "hi"}}},
    {"data": {"name": "cb"}, "transform": [{"fold": ["lo", "hi"], "as": ["k", "m"]}], "mark": {"type": "line", "color": "#0000ff", "opacity": 0.4, "strokeWidth": 1.5}, "encoding": {"detail": {"field": "k"}}},
    {"data": {"name": "cr"}, "transform": [{"fold": ["lo", "hi"], "as": ["k", "m"]}], "mark": {"type": "line", "color": "#ff0000", "opacity": 0.4, "strokeWidth": 1.5}, "encoding": {"detail": {"field": "k"}}},
    {"data": {"name": "cb"}, "mark": {"type": "line", "color": "#0000ff", "strokeWidth": 2}, "encoding": {}},
    {"data": {"name": "cr"}, "mark": {"type": "line", "color": "#ff0000", "strokeWidth": 2}, "encoding": {}},
    {"data": {"values": [{"t": -5.03, "t2": 5.07, "m": -0.125}]}, "mark": {"type": "rule", "color": "#1a1a1a", "strokeWidth": 3, "strokeDash": [11, 8]}, "encoding": {"x2": {"field": "t2"}}},
    {"data": {"values": [{"t": 0, "m": 0.0388, "m2": -0.2145}]}, "mark": {"type": "rule", "color": "#1a1a1a", "strokeWidth": 3, "strokeDash": [11, 8]}, "encoding": {"y2": {"field": "m2"}}},
    {"data": {"values": [{"t": 3.5, "t2": 5.5, "m": -0.205}]}, "mark": {"type": "rule", "color": "#262626", "strokeWidth": 2}, "encoding": {"x2": {"field": "t2"}}},
    {"data": {"values": [{"t": 5.5, "m": -0.205, "m2": -0.155}]}, "mark": {"type": "rule", "color": "#262626", "strokeWidth": 2}, "encoding": {"y2": {"field": "m2"}}},
    {"data": {"values": [{"t": -1.57, "m": -0.0205, "label": "Real"}]}, "mark": {"type": "text", "color": "#0000ff", "align": "center", "baseline": "alphabetic"}, "encoding": {"text": {"field": "label"}}},
    {"data": {"values": [{"t": -3.81, "m": -0.055, "label": "Random"}]}, "mark": {"type": "text", "color": "#ff0000", "align": "center", "baseline": "alphabetic"}, "encoding": {"text": {"field": "label"}}},
    {"data": {"values": [{"t": 4.62, "m": -0.2255, "label": "2s"}]}, "mark": {"type": "text", "color": "#262626", "align": "center", "baseline": "alphabetic"}, "encoding": {"text": {"field": "label"}}},
    {"data": {"values": [{"t": 5.88, "m": -0.1794, "label": "0.05g"}]}, "mark": {"type": "text", "color": "#262626", "align": "center", "baseline": "middle", "angle": 270}, "encoding": {"text": {"field": "label"}}}
  ]
},
{
  "width": 420, "height": 367,
  "title": {"text": "D", "dx": -125, "offset": -22},
  "encoding": {
    "x": {"field": "t", "type": "quantitative", "scale": {"domain": [-4.595, 5.405], "nice": false, "zero": false},
      "axis": {"title": "Plume Encounter", "domain": false, "ticks": false, "labels": false, "titleX": 193, "titleY": 17, "titleAlign": "center", "titleBaseline": "alphabetic"}},
    "y": {"field": "m", "type": "quantitative", "scale": {"domain": [8.548, 9.792], "nice": false, "zero": false},
      "axis": {"title": "Frequency (Hz)", "domain": false, "ticks": false, "values": [9], "labelExpr": "'9Hz'", "labelAngle": 270, "labelAlign": "center", "labelBaseline": "middle", "labelPadding": 48, "titleX": -88, "titleY": 195, "titleAngle": 270, "titleAlign": "center", "titleBaseline": "middle"}}
  },
  "layer": [
    {"data": {"name": "db"}, "mark": {"type": "area", "color": "#0000ff", "opacity": 0.22}, "encoding": {"y": {"field": "lo", "type": "quantitative", "scale": {"domain": [8.548, 9.792], "nice": false, "zero": false}}, "y2": {"field": "hi"}}},
    {"data": {"name": "dr"}, "mark": {"type": "area", "color": "#ff0000", "opacity": 0.22}, "encoding": {"y": {"field": "lo", "type": "quantitative", "scale": {"domain": [8.548, 9.792], "nice": false, "zero": false}}, "y2": {"field": "hi"}}},
    {"data": {"name": "db"}, "transform": [{"fold": ["lo", "hi"], "as": ["k", "m"]}], "mark": {"type": "line", "color": "#0000ff", "opacity": 0.4, "strokeWidth": 1.5}, "encoding": {"detail": {"field": "k"}}},
    {"data": {"name": "dr"}, "transform": [{"fold": ["lo", "hi"], "as": ["k", "m"]}], "mark": {"type": "line", "color": "#ff0000", "opacity": 0.4, "strokeWidth": 1.5}, "encoding": {"detail": {"field": "k"}}},
    {"data": {"name": "db"}, "mark": {"type": "line", "color": "#0000ff", "strokeWidth": 2}, "encoding": {}},
    {"data": {"name": "dr"}, "mark": {"type": "line", "color": "#ff0000", "strokeWidth": 2}, "encoding": {}},
    {"data": {"values": [{"t": -5.0, "t2": 5.14, "m": 9}]}, "mark": {"type": "rule", "color": "#1a1a1a", "strokeWidth": 3, "strokeDash": [11, 8]}, "encoding": {"x2": {"field": "t2"}}},
    {"data": {"values": [{"t": 0, "m": 9.7515, "m2": 8.592}]}, "mark": {"type": "rule", "color": "#1a1a1a", "strokeWidth": 3, "strokeDash": [11, 8]}, "encoding": {"y2": {"field": "m2"}}},
    {"data": {"values": [{"t": 3, "t2": 5, "m": 8.6295}]}, "mark": {"type": "rule", "color": "#262626", "strokeWidth": 2}, "encoding": {"x2": {"field": "t2"}}},
    {"data": {"values": [{"t": 5, "m": 8.6295, "m2": 8.8295}]}, "mark": {"type": "rule", "color": "#262626", "strokeWidth": 2}, "encoding": {"y2": {"field": "m2"}}},
    {"data": {"values": [{"t": 4.14, "m": 8.538, "label": "2s"}]}, "mark": {"type": "text", "color": "#262626", "align": "center", "baseline": "alphabetic"}, "encoding": {"text": {"field": "label"}}},
    {"data": {"values": [{"t": 5.4, "m": 8.745, "label": "0.2Hz"}]}, "mark": {"type": "text", "color": "#262626", "align": "center", "baseline": "middle", "angle": 270}, "encoding": {"text": {"field": "label"}}}
  ]
}
]
}
